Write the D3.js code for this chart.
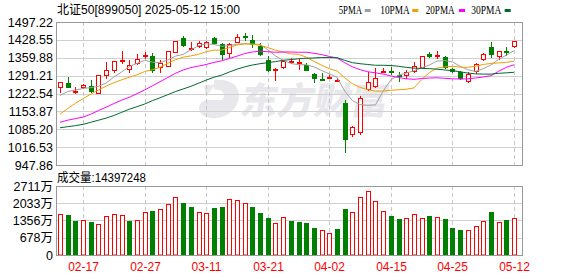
<!DOCTYPE html>
<html><head><meta charset="utf-8">
<script src="https://cdn.jsdelivr.net/npm/d3@7"></script>
<style>body{margin:0;background:#fff}svg{display:block}</style>
</head><body><svg id="c" width="578" height="276"></svg>
<script>
const dates = ["02-12","02-13","02-14","02-17","02-18","02-19","02-20","02-21","02-24","02-25","02-26","02-27","02-28",
"03-03","03-04","03-05","03-06","03-07","03-10","03-11","03-12","03-13","03-14","03-17","03-18","03-19","03-20","03-21","03-24","03-25","03-26","03-27","03-28","03-31",
"04-01","04-02","04-03","04-07","04-08","04-09","04-10","04-11","04-14","04-15","04-16","04-17","04-18","04-21","04-22","04-23","04-24","04-25","04-28","04-29","04-30",
"05-06","05-07","05-08","05-09","05-12"];
const open  = [1242,1263,1232,1242,1250,1222,1289,1310,1348,1314,1336,1367,1365,1322,1326,1380,1435,1396,1401,1396,1437,1413,1373,1418,1442,1428,1405,1350,1310,1320,1346,1341,1332,1297,1280,1284,1272,1187,1062,1070,1235,1248,1308,1310,1295,1288,1307,1322,1375,1368,1363,1318,1306,1265,1304,1352,1403,1364,1384,1402];
const high  = [1266,1286,1246,1259,1273,1294,1342,1347,1386,1350,1373,1383,1378,1350,1385,1425,1444,1420,1426,1423,1440,1416,1418,1452,1455,1446,1418,1366,1319,1348,1358,1355,1341,1300,1300,1294,1281,1198,1097,1213,1304,1320,1319,1326,1306,1312,1342,1368,1383,1385,1366,1320,1308,1305,1340,1378,1419,1386,1400,1424];
const low   = [1226,1244,1222,1240,1226,1220,1280,1300,1334,1303,1331,1356,1302,1302,1324,1378,1400,1384,1398,1392,1412,1352,1360,1416,1425,1397,1367,1305,1272,1317,1336,1312,1308,1262,1277,1278,1268,995,1055,1065,1232,1245,1300,1294,1268,1278,1302,1320,1360,1355,1317,1300,1276,1262,1299,1349,1357,1352,1366,1396];
const close = [1265,1245,1233,1254,1227,1292,1311,1346,1350,1331,1354,1369,1310,1341,1385,1424,1404,1397,1418,1422,1414,1370,1413,1440,1441,1407,1369,1310,1318,1348,1347,1342,1310,1277,1278,1286,1276,1045,1092,1206,1266,1284,1310,1309,1294,1306,1330,1367,1361,1370,1319,1304,1279,1298,1335,1376,1371,1384,1382,1423];
const ma5  = [1215,1230,1236,1242,1245,1250,1263,1286,1305,1326,1338,1350,1343,1341,1352,1366,1373,1390,1406,1413,1411,1404,1407,1412,1414,1412,1411,1391,1367,1350,1338,1333,1333,1325,1311,1298,1285,1232,1195,1180,1177,1179,1232,1275,1293,1301,1310,1321,1332,1347,1349,1344,1327,1314,1307,1318,1332,1353,1370,1387];
const ma10 = [1143,1165,1185,1203,1220,1236,1251,1264,1275,1285,1294,1307,1314,1323,1339,1352,1362,1367,1373,1383,1389,1389,1399,1409,1413,1412,1408,1399,1389,1382,1375,1373,1362,1346,1331,1318,1309,1283,1260,1246,1237,1232,1232,1235,1237,1239,1244,1276,1303,1320,1325,1327,1324,1323,1327,1334,1338,1340,1342,1347];
const ma20 = [1112,1120,1126,1132,1143,1157,1170,1184,1197,1208,1222,1236,1252,1268,1284,1300,1313,1322,1328,1334,1342,1348,1357,1366,1376,1382,1385,1383,1381,1382,1382,1381,1381,1377,1372,1365,1359,1341,1325,1314,1306,1302,1297,1290,1284,1279,1277,1280,1282,1283,1281,1279,1278,1279,1282,1286,1291,1308,1323,1333];
const ma30 = [1091,1095,1099,1104,1112,1120,1128,1138,1150,1162,1172,1182,1195,1206,1218,1230,1240,1250,1262,1274,1285,1293,1305,1316,1325,1332,1337,1341,1345,1350,1353,1356,1358,1359,1361,1361,1360,1350,1341,1337,1334,1331,1331,1330,1327,1323,1320,1319,1318,1316,1313,1310,1306,1301,1298,1297,1297,1300,1302,1304];
const volume = [1611,1572,1336,1362,1297,1218,1519,1611,1558,1336,1375,1676,1729,1794,2004,2266,2043,1886,1676,1637,1847,1886,2187,2148,2030,1886,1650,1454,1257,1480,1336,1297,1257,1061,969,864,1022,1807,1676,2266,2501,2109,1716,1532,1414,1441,1598,1441,1532,1480,1414,1061,982,969,1126,1323,1689,1284,1375,1440];
const priceTicks = [947.86,1016.53,1085.20,1153.87,1222.54,1291.21,1359.88,1428.55,1497.22];
const volTicks = [0,678,1356,2033,2711];
const dateTicks = ["02-17","02-27","03-11","03-21","04-02","04-15","04-25","05-12"];
const maNames = ["5PMA","10PMA","20PMA","30PMA"];
const maColors = ["#a0a0a0","#f0a000","#ff00ff","#006a2e"];
const titleText = "北证50[899050] 2025-05-12 15:00";
const volTitle = "成交量:14397248";

const RED = "#ff0000", GREEN = "#008000";
const L = 56, R = 522, PT = 22, PB = 165, VT = 186, VB = 255;
const svg = d3.select("#c");
const x = d3.scalePoint().domain(dates).range([60, 514]);
const yP = d3.scaleLinear().domain([947.86, 1497.22]).range([PB, PT]);
const yV = d3.scaleLinear().domain([0, 2711]).range([VB, VT]);
const font = "'Liberation Sans', Arial, 'Noto Sans CJK SC', sans-serif";

// watermark
const wm = svg.append("g").attr("fill", "#e8e8ec");
wm.append("path").attr("d", "M214,80 C236,78 244,92 236,106 C228,120 206,122 200,112 C197,106 202,100 208,100 L222,100 C226,96 224,88 214,90 Z M204,86 L216,84 L206,96 Z");
wm.append("text").attr("x", 240).attr("y", 114).attr("font-size", 37).attr("font-weight", 900)
  .attr("font-family", "'Noto Sans CJK SC', sans-serif").attr("transform", "skewX(-10) translate(19,0)")
  .text("东方财富");

// horizontal grid
svg.append("g").selectAll("line").data(priceTicks.slice(1, -1)).join("line")
  .attr("x1", L).attr("x2", R).attr("y1", d => Math.round(yP(d)) + 0.5).attr("y2", d => Math.round(yP(d)) + 0.5)
  .attr("stroke", "#d0d0d0");
svg.append("g").selectAll("line").data(volTicks.slice(1, -1)).join("line")
  .attr("x1", L).attr("x2", R).attr("y1", d => Math.round(yV(d)) + 0.5).attr("y2", d => Math.round(yV(d)) + 0.5)
  .attr("stroke", "#d0d0d0");
// vertical dashed grid
[[PT, PB], [VT, VB]].forEach(([a, b]) => {
  svg.append("g").selectAll("line").data(dateTicks).join("line")
    .attr("x1", d => Math.round(x(d)) + 0.5).attr("x2", d => Math.round(x(d)) + 0.5)
    .attr("y1", a).attr("y2", b).attr("stroke", "#c8c8c8").attr("stroke-dasharray", "4,3");
});

// candles
const idx = d3.range(dates.length);
const cg = svg.append("g");
idx.forEach(i => {
  const cx = Math.round(x(dates[i]));
  const up = close[i] >= open[i];
  const col = up ? RED : GREEN;
  const yT = Math.round(yP(Math.max(open[i], close[i])));
  const yB = Math.round(yP(Math.min(open[i], close[i])));
  const yH = Math.round(yP(high[i])), yL = Math.round(yP(low[i]));
  if (yB - yT < 2) {
    cg.append("line").attr("x1", cx + 0.5).attr("x2", cx + 0.5).attr("y1", yH).attr("y2", yL).attr("stroke", col);
    cg.append("rect").attr("x", cx - 2).attr("y", yT).attr("width", 5).attr("height", 2).attr("fill", col);
  } else if (up) {
    cg.append("line").attr("x1", cx + 0.5).attr("x2", cx + 0.5).attr("y1", yH).attr("y2", yT).attr("stroke", col);
    cg.append("line").attr("x1", cx + 0.5).attr("x2", cx + 0.5).attr("y1", yB).attr("y2", yL).attr("stroke", col);
    cg.append("rect").attr("x", cx - 1.5).attr("y", yT + 0.5).attr("width", 4).attr("height", yB - yT - 1)
      .attr("fill", "#fff").attr("stroke", col);
  } else {
    cg.append("line").attr("x1", cx + 0.5).attr("x2", cx + 0.5).attr("y1", yH).attr("y2", yL).attr("stroke", col);
    cg.append("rect").attr("x", cx - 2).attr("y", yT).attr("width", 5).attr("height", yB - yT).attr("fill", col);
  }
});

// MA lines
[ma5, ma10, ma20, ma30].forEach((arr, k) => {
  svg.append("path").datum(arr)
    .attr("d", d3.line().x((d, i) => x(dates[i])).y(d => yP(d)))
    .attr("fill", "none").attr("stroke", maColors[k]).attr("stroke-width", 1);
});

// volume bars
const vg = svg.append("g");
idx.forEach(i => {
  const cx = Math.round(x(dates[i]));
  const up = i === 0 ? close[i] >= open[i] : close[i] >= close[i - 1];
  const yT = Math.round(yV(volume[i]));
  if (up) {
    vg.append("rect").attr("x", cx - 1.5).attr("y", yT + 0.5).attr("width", 4).attr("height", VB - yT - 0.5)
      .attr("fill", "#fff").attr("stroke", RED);
  } else {
    vg.append("rect").attr("x", cx - 2).attr("y", yT).attr("width", 5).attr("height", VB - yT).attr("fill", GREEN);
  }
});

// frames
svg.append("rect").attr("x", L + 0.5).attr("y", PT + 0.5).attr("width", R - L).attr("height", PB - PT)
  .attr("fill", "none").attr("stroke", "#999");
svg.append("rect").attr("x", L + 0.5).attr("y", VT + 0.5).attr("width", R - L).attr("height", VB - VT)
  .attr("fill", "none").attr("stroke", "#999");

// price axis labels
svg.append("g").selectAll("text").data(priceTicks).join("text")
  .attr("x", 53).attr("y", d => yP(d) + 4.5).attr("text-anchor", "end")
  .attr("font-family", font).attr("font-size", 12.5).attr("fill", "#000")
  .text(d => d.toFixed(2));
// volume axis labels
svg.append("g").selectAll("text").data(volTicks).join("text")
  .attr("x", 53).attr("y", d => yV(d) + 4.5).attr("text-anchor", "end")
  .attr("font-family", font).attr("font-size", 12.5).attr("fill", "#000")
  .text(d => d === 0 ? "0" : d + "万");
// date labels
svg.append("g").selectAll("text").data(dateTicks).join("text")
  .attr("x", d => Math.round(x(d)) + 0.5).attr("y", 271).attr("text-anchor", "middle")
  .attr("font-family", font).attr("font-size", 12).attr("fill", RED)
  .text(d => d);

// title
svg.append("text").attr("x", 57).attr("y", 13.5).attr("font-family", font).attr("font-size", 12.5)
  .attr("textLength", 183).attr("lengthAdjust", "spacingAndGlyphs")
  .attr("fill", "#000").text(titleText);
svg.append("text").attr("x", 57).attr("y", 182).attr("font-family", font).attr("font-size", 12.5)
  .attr("textLength", 89).attr("lengthAdjust", "spacingAndGlyphs")
  .attr("fill", "#000").text(volTitle);

// legend
const legX = [338.7, 380.3, 425.7, 471.3];
const legW = [23.3, 29.4, 29, 30];
const swX = [364.7, 412.3, 459, 504.7];
maNames.forEach((n, k) => {
  svg.append("text").attr("x", legX[k]).attr("y", 13.5).attr("font-family", "'Liberation Serif', serif")
    .attr("font-size", 13.5).attr("textLength", legW[k]).attr("lengthAdjust", "spacingAndGlyphs").text(n);
  svg.append("rect").attr("x", swX[k]).attr("y", 9).attr("width", 6).attr("height", 3).attr("fill", maColors[k]);
});
</script></body></html>
